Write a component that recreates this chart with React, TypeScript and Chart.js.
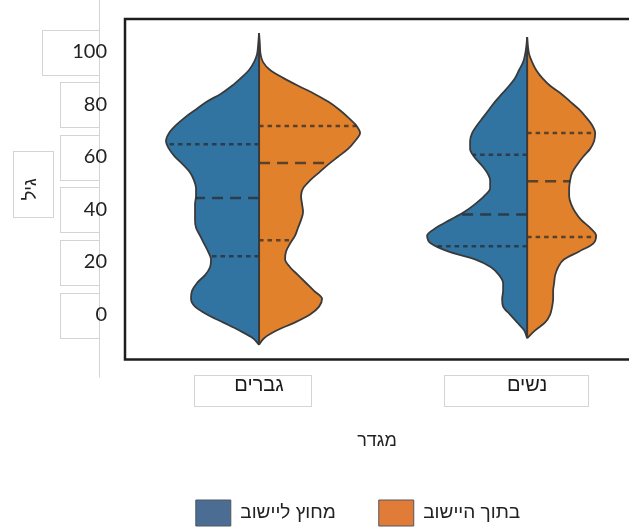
import React, { useEffect, useRef } from 'react';
import { Chart, registerables } from 'chart.js';

Chart.register(...registerables);

// ---------------- data ----------------
const CATEGORIES = ['גברים', 'נשים'];
const SERIES_LABELS = ['מחוץ ליישוב', 'בתוך היישוב'];
const Y_TICKS = [0, 20, 40, 60, 80, 100];
const Y_TITLE = 'גיל';
const X_TITLE = 'מגדר';
const Y_MIN = -17.1;
const Y_MAX = 112.4;
const X_MIN = -0.5;
const X_MAX = 1.38;

// age grid and half-violin densities (drawn width, in 1/268 of category spacing)
const MEN_AGES = [-11.5, -9, -6, -3, 0, 3, 6, 9, 12, 15, 18, 21, 24, 27, 30, 33, 36, 39, 42, 45, 48, 51, 54, 57, 60, 63, 66, 69, 72, 75, 78, 81, 84, 87, 90, 93, 96, 99, 103, 107];
const MEN_OUTSIDE = [0, 6, 20, 36, 52, 64, 68, 67, 62, 54, 49, 48, 51, 55, 59, 63, 64, 64, 64, 63, 63, 65, 69, 76, 84, 90, 93, 90, 83, 74, 63, 52, 38, 27, 18, 10, 5, 2, 0.8, 0];
const MEN_INSIDE = [0, 5, 18, 36, 51, 60, 63, 55, 47, 39, 31, 26, 27, 31, 36, 39, 42, 44, 43, 42, 44, 51, 60, 69, 79, 89, 96, 101, 97, 89, 80, 69, 55, 39, 24, 11, 4, 1.5, 0.8, 0];

const WOMEN_AGES = [-9, -6, -3, 0, 3, 6, 9, 12, 15, 18, 21, 24, 27, 30, 33, 36, 39, 42, 45, 48, 51, 54, 57, 60, 63, 66, 69, 72, 75, 78, 81, 84, 87, 90, 93, 96, 99, 102, 105.5];
const WOMEN_OUTSIDE = [0, 3, 10, 17, 24, 25, 24, 24, 28, 36, 52, 79, 96, 100, 91, 77, 63, 52, 43, 37, 37, 40, 46, 53, 57, 57, 55, 50, 44, 38, 32, 25, 18, 12, 8, 4, 2, 0.8, 0];
const WOMEN_INSIDE = [0, 8, 18, 23, 25, 26, 26, 27, 28, 31, 37, 52, 66, 69, 63, 54, 48, 44, 42, 42, 43, 45, 50, 56, 63, 67, 68, 65, 59, 52, 43, 34, 23, 15, 9, 5, 2, 0.8, 0];

// quartiles [Q1, median, Q3]
const MEN_OUTSIDE_Q = [22.2, 44.3, 64.8];
const MEN_INSIDE_Q = [28.3, 57.6, 71.7];
const WOMEN_OUTSIDE_Q = [26.0, 38.0, 60.8];
const WOMEN_INSIDE_Q = [29.5, 50.7, 69.0];

// ---------------- style ----------------
const WIDTH = 629;
const HEIGHT = 532;
const DENSITY_TO_X = 1 / 268;
const BLUE = '#3274a1';
const ORANGE = '#e1812c';
const LEGEND_COLORS = ['#4b6c93', '#e07c38'];
const OUTLINE = '#3a3a3a';
const QUART = 'rgba(40,40,40,0.72)';
const GUIDE = '#d4d4d4';
const HEB_FONT = '"Liberation Sans", "DejaVu Sans", Arial, sans-serif';
const NUM_FONT = 'Lato, "DejaVu Sans", sans-serif';
const LEGEND_SHIFT = -19;
const X_BOX_PAD = [34, 52];

function densityAt(ages: number[], dens: number[], a: number): number {
  for (let i = 0; i < ages.length - 1; i++) {
    if (a >= ages[i] && a <= ages[i + 1]) {
      const t = (a - ages[i]) / (ages[i + 1] - ages[i]);
      return dens[i] + t * (dens[i + 1] - dens[i]);
    }
  }
  return 0;
}

const framePlugin = {
  id: 'frameAndGuides',
  beforeDraw(chart: any) {
    const { ctx, chartArea, scales } = chart;
    const ys = scales.y;
    const xs = scales.x;
    ctx.save();
    ctx.strokeStyle = GUIDE;
    ctx.lineWidth = 1;
    const bx = Math.round(ys.right - 26) + 0.5;
    ctx.beginPath();
    ctx.moveTo(bx, 0);
    ctx.lineTo(bx, chartArea.bottom + 18);
    ctx.stroke();
    Y_TICKS.forEach((v) => {
      const py = ys.getPixelForValue(v);
      const w = v === 100 ? 57 : 39;
      ctx.fillStyle = '#fff';
      ctx.fillRect(bx - w, Math.round(py - 22) + 0.5, w, 45);
      ctx.strokeRect(bx - w, Math.round(py - 22) + 0.5, w, 45);
    });
    // y title box
    const cy = (chartArea.top + chartArea.bottom) / 2 - 5;
    ctx.strokeRect(13.5, Math.round(cy - 33) + 0.5, 40, 66);
    // x tick boxes
    ctx.font = `20px ${HEB_FONT}`;
    CATEGORIES.forEach((c, i) => {
      const px = xs.getPixelForValue(i);
      const tw = ctx.measureText(c).width;
      const w = tw + 2 * X_BOX_PAD[i];
      ctx.strokeRect(Math.round(px - w / 2 - 6 - 5 * i) + 0.5, Math.round(chartArea.bottom + 15) + 0.5, Math.round(w), 31);
    });
    ctx.restore();
  },
  afterDatasetsDraw(chart: any) {
    const { ctx, chartArea } = chart;
    ctx.save();
    ctx.strokeStyle = '#1e1e1e';
    ctx.lineWidth = 2.5;
    ctx.beginPath();
    ctx.moveTo(chartArea.right + 2, chartArea.top);
    ctx.lineTo(chartArea.left, chartArea.top);
    ctx.lineTo(chartArea.left, chartArea.bottom);
    ctx.lineTo(chartArea.right + 2, chartArea.bottom);
    ctx.stroke();
    ctx.restore();
  },
  afterLayout(chart: any) {
    const lg = chart.legend;
    if (lg) {
      lg.left += LEGEND_SHIFT;
      lg.right += LEGEND_SHIFT;
    }
  },
};

export default function App() {
  const ref = useRef<HTMLCanvasElement>(null);

  useEffect(() => {
    const canvas = ref.current;
    if (!canvas) return;

    const groups = [
      { ages: MEN_AGES, halves: [MEN_OUTSIDE, MEN_INSIDE], qs: [MEN_OUTSIDE_Q, MEN_INSIDE_Q] },
      { ages: WOMEN_AGES, halves: [WOMEN_OUTSIDE, WOMEN_INSIDE], qs: [WOMEN_OUTSIDE_Q, WOMEN_INSIDE_Q] },
    ];

    const datasets: any[] = [];
    // center lines (index first => drawn on top)
    groups.forEach((g, gi) => {
      datasets.push({
        label: 'center',
        data: [
          { x: gi, y: g.ages[0] },
          { x: gi, y: g.ages[g.ages.length - 1] },
        ],
        borderColor: OUTLINE,
        borderWidth: 2,
        pointRadius: 0,
        fill: false,
        tension: 0,
      });
    });
    // quartile lines
    groups.forEach((g, gi) => {
      g.halves.forEach((dens, hi) => {
        const side = hi === 0 ? -1 : 1;
        g.qs[hi].forEach((q, k) => {
          datasets.push({
            label: 'quartile',
            data: [
              { x: gi, y: q },
              { x: gi + side * densityAt(g.ages, dens, q) * DENSITY_TO_X, y: q },
            ],
            borderColor: QUART,
            borderWidth: 2.5,
            borderDash: k === 1 ? [11, 7] : [4.5, 4],
            pointRadius: 0,
            fill: false,
            tension: 0,
          });
        });
      });
    });
    // violin halves
    groups.forEach((g, gi) => {
      g.halves.forEach((dens, hi) => {
        const side = hi === 0 ? -1 : 1;
        datasets.push({
          label: SERIES_LABELS[hi],
          data: g.ages.map((a, i) => ({ x: gi + side * dens[i] * DENSITY_TO_X, y: a })),
          borderColor: OUTLINE,
          borderWidth: 1.8,
          backgroundColor: hi === 0 ? BLUE : ORANGE,
          fill: { value: gi },
          pointRadius: 0,
          cubicInterpolationMode: 'monotone',
        });
      });
    });

    const zeroPad = (s: any) => {
      s.paddingTop = 0;
      s.paddingBottom = 0;
      s.paddingLeft = 0;
      s.paddingRight = 0;
    };

    const chart = new Chart(canvas, {
      type: 'line',
      data: { datasets },
      plugins: [framePlugin],
      options: {
        indexAxis: 'y',
        animation: false,
        responsive: false,
        devicePixelRatio: 1,
        layout: { padding: { top: 19, left: 0, right: 0, bottom: -4 } },
        plugins: {
          tooltip: { enabled: false },
          legend: {
            display: true,
            position: 'bottom',
            fullSize: false,
            labels: {
              boxWidth: 35,
              boxHeight: 26,
              padding: 43,
              color: '#222',
              font: { family: HEB_FONT, size: 19 },
              generateLabels: () =>
                SERIES_LABELS.map((text, i) => ({
                  text,
                  fillStyle: LEGEND_COLORS[i],
                  strokeStyle: '#50575f',
                  lineWidth: 1,
                  hidden: false,
                  datasetIndex: i,
                  fontColor: '#222',
                })),
            },
          },
        },
        scales: {
          x: {
            type: 'linear',
            position: 'bottom',
            min: X_MIN,
            max: X_MAX,
            grid: { display: false, drawTicks: false },
            border: { display: false },
            afterBuildTicks: (s: any) => {
              s.ticks = CATEGORIES.map((_, i) => ({ value: i }));
            },
            afterFit: (s: any) => {
              s.height = 97.5;
              zeroPad(s);
            },
            ticks: {
              padding: 14,
              color: '#1a1a1a',
              font: { family: HEB_FONT, size: 20 },
              callback: (v: any) => CATEGORIES[v as number] ?? '',
            },
            title: {
              display: true,
              text: X_TITLE,
              color: '#222',
              font: { family: HEB_FONT, size: 18 },
              padding: { top: 0, bottom: 5 },
            },
          },
          y: {
            type: 'linear',
            min: Y_MIN,
            max: Y_MAX,
            grid: { display: false, drawTicks: false },
            border: { display: false },
            afterBuildTicks: (s: any) => {
              s.ticks = Y_TICKS.map((v) => ({ value: v }));
            },
            afterFit: (s: any) => {
              s.width = 125;
              zeroPad(s);
            },
            ticks: {
              padding: 18,
              color: '#222',
              font: { family: NUM_FONT, size: 20 },
            },
            title: {
              display: true,
              text: Y_TITLE,
              color: '#222',
              font: { family: HEB_FONT, size: 18 },
              padding: { top: 20, bottom: 0 },
            },
          },
        },
      } as any,
    });

    return () => chart.destroy();
  }, []);

  return (
    <div style={{ position: 'fixed', left: 0, top: 0, width: WIDTH, height: HEIGHT, overflow: 'hidden', background: '#fff' }}>
      <canvas ref={ref} width={WIDTH} height={HEIGHT} style={{ width: WIDTH, height: HEIGHT, display: 'block' }} />
    </div>
  );
}
